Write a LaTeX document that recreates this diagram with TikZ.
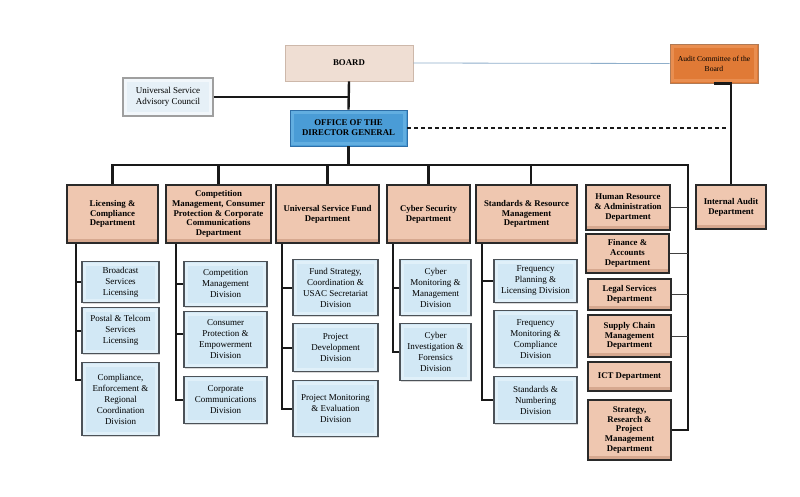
\documentclass[tikz,border=0pt]{standalone}
\usepackage{fontspec}
\setmainfont{Liberation Serif}
\usetikzlibrary{shadows,calc}
\definecolor{deptfill}{HTML}{EFC7B0}
\definecolor{deptdark}{HTML}{B98468}
\definecolor{deptborder}{HTML}{2A2A2A}
\definecolor{divfill}{HTML}{D2E8F5}
\definecolor{divlight}{HTML}{E0F0F9}
\definecolor{divborder}{HTML}{4C5258}
\definecolor{boardfill}{HTML}{EFDED3}
\definecolor{boardborder}{HTML}{CDB8AA}
\definecolor{odgfill}{HTML}{4A9CD6}
\definecolor{odglight}{HTML}{62AEE0}
\definecolor{odgborder}{HTML}{2E6FA8}
\definecolor{auditfill}{HTML}{E07A36}
\definecolor{auditlight}{HTML}{E98E50}
\definecolor{auditborder}{HTML}{B07A55}
\definecolor{usacfill}{HTML}{E6F0F7}
\definecolor{usaclight}{HTML}{F2F7FB}
\definecolor{blueline}{HTML}{8FAFCB}
\tikzset{
  every node/.style={align=center, inner sep=1pt},
  bevel/.style={path picture={\draw[line width=3pt, #1]
    ($(path picture bounding box.south west)+(2.5,-2.5)$) rectangle
    ($(path picture bounding box.north east)+(-2.5,2.5)$);}},
  dept/.style={rectangle, draw=deptborder, line width=1.4pt, fill=deptfill,
    path picture={\fill[deptdark, opacity=0.45]
      (path picture bounding box.south west) rectangle
      ($(path picture bounding box.south east)+(0,-4)$);},
    font=\fontsize{8.8}{9.8}\selectfont\bfseries},
  divbox/.style={rectangle, draw=divborder, line width=1.3pt, fill=divfill,
    bevel=divlight,
    drop shadow={opacity=0.3, shadow xshift=1pt, shadow yshift=-1pt},
    font=\fontsize{9}{11}\selectfont},
  boardbox/.style={rectangle, draw=boardborder, line width=0.8pt, fill=boardfill,
    drop shadow={opacity=0.25, shadow xshift=1pt, shadow yshift=-1pt},
    font=\fontsize{8.8}{10}\selectfont\bfseries},
  odgbox/.style={rectangle, draw=odgborder, line width=0.8pt, fill=odgfill,
    bevel=odglight,
    drop shadow={opacity=0.25, shadow xshift=1pt, shadow yshift=-1pt},
    font=\fontsize{8.8}{10}\selectfont\bfseries},
  auditbox/.style={rectangle, draw=auditborder, line width=0.8pt, fill=auditfill,
    bevel=auditlight,
    drop shadow={opacity=0.25, shadow xshift=1pt, shadow yshift=-1pt},
    font=\fontsize{7.6}{10}\selectfont},
  usacbox/.style={rectangle, draw=gray!75, line width=1.2pt, fill=usacfill,
    bevel=usaclight,
    drop shadow={opacity=0.25, shadow xshift=1pt, shadow yshift=-1pt},
    font=\fontsize{9}{11.3}\selectfont},
  conn/.style={line width=2.4pt, draw=black!90},
  colconn/.style={line width=2pt, draw=black!90},
  thinconn/.style={line width=0.9pt, draw=black!75},
  bluelink/.style={line width=0.8pt, draw=blueline},
  dashlink/.style={line width=1.2pt, draw=black!90, dash pattern=on 4pt off 3pt},
}
\begin{document}
\begin{tikzpicture}[x=1pt, y=-1pt]
\useasboundingbox (0,0) rectangle (800,496);
\fill[white] (0,0) rectangle (800,496);

% top level
\node[boardbox, minimum width=128pt, minimum height=36pt] (board) at (349,63) {BOARD};
\node[auditbox, minimum width=88pt, minimum height=39pt] (audit) at (714,63.5) {Audit Committee of the\\Board};
\node[usacbox, minimum width=90pt, minimum height=38pt] (usac) at (168,97) {Universal Service\\Advisory Council};
\node[odgbox, minimum width=117pt, minimum height=36pt] (odg) at (348.5,128) {OFFICE OF THE\\DIRECTOR GENERAL};

% departments
\node[dept, minimum width=91pt, minimum height=58pt] (lic) at (112.5,214) {Licensing \&\\Compliance\\Department};
\node[dept, minimum width=105pt, minimum height=58pt] (comp) at (218.5,214) {Competition\\Management, Consumer\\Protection \& Corporate\\Communications\\Department};
\node[dept, minimum width=103pt, minimum height=58pt] (usf) at (327.5,214) {Universal Service Fund\\Department};
\node[dept, minimum width=83pt, minimum height=58pt] (cyb) at (428.5,214) {Cyber Security\\Department};
\node[dept, minimum width=101pt, minimum height=58pt] (std) at (526.5,214) {Standards \& Resource\\Management\\Department};
\node[dept, minimum width=84pt, minimum height=45pt] (hr) at (628,207.5) {Human Resource\\\& Administration\\Department};
\node[dept, minimum width=83pt, minimum height=39pt] (fin) at (627.5,253.5) {Finance \&\\Accounts\\Department};
\node[dept, minimum width=83pt, minimum height=31pt] (legal) at (629.5,294.5) {Legal Services\\Department};
\node[dept, minimum width=83pt, minimum height=42pt] (supply) at (629.5,336) {Supply Chain\\Management\\Department};
\node[dept, minimum width=83pt, minimum height=29pt] (ict) at (629.5,376.5) {ICT Department};
\node[dept, minimum width=83pt, minimum height=60pt] (strat) at (629.5,430) {Strategy,\\Research \&\\Project\\Management\\Department};
\node[dept, minimum width=70pt, minimum height=44pt] (ia) at (731,207) {Internal Audit\\Department};

% divisions
\node[divbox, minimum width=77pt, minimum height=41pt] (d11) at (120.5,282) {Broadcast\\Services\\Licensing};
\node[divbox, minimum width=77pt, minimum height=46pt] (d12) at (120.5,330.5) {Postal \& Telcom\\Services\\Licensing};
\node[divbox, minimum width=77pt, minimum height=73pt] (d13) at (120.5,399) {Compliance,\\Enforcement \&\\Regional\\Coordination\\Division};

\node[divbox, minimum width=83pt, minimum height=45pt] (d21) at (225.5,284) {Competition\\Management\\Division};
\node[divbox, minimum width=83pt, minimum height=56pt] (d22) at (225.5,339.5) {Consumer\\Protection \&\\Empowerment\\Division};
\node[divbox, minimum width=83pt, minimum height=47pt] (d23) at (225.5,400) {Corporate\\Communications\\Division};

\node[divbox, minimum width=85pt, minimum height=56pt] (d31) at (335.5,287.5) {Fund Strategy,\\Coordination \&\\USAC Secretariat\\Division};
\node[divbox, minimum width=85pt, minimum height=48pt] (d32) at (335.5,347.5) {Project\\Development\\Division};
\node[divbox, minimum width=85pt, minimum height=56pt] (d33) at (335.5,408.5) {Project Monitoring\\\& Evaluation\\Division};

\node[divbox, minimum width=71pt, minimum height=56pt] (d41) at (435.5,287.5) {Cyber\\Monitoring \&\\Management\\Division};
\node[divbox, minimum width=71pt, minimum height=57pt] (d42) at (435.5,352) {Cyber\\Investigation \&\\Forensics\\Division};

\node[divbox, minimum width=83pt, minimum height=43pt] (d51) at (535.5,281) {Frequency\\Planning \&\\Licensing Division};
\node[divbox, minimum width=83pt, minimum height=57pt] (d52) at (535.5,339) {Frequency\\Monitoring \&\\Compliance\\Division};
\node[divbox, minimum width=83pt, minimum height=47pt] (d53) at (535.5,400) {Standards \&\\Numbering\\Division};

% connectors: top
\coordinate (busR) at (688,165);
\coordinate (dashE) at (728,0);
\coordinate (stdx) at (531,0);
\draw[conn] (board.south) -- (odg.north);
\draw[conn] (usac.east) -- (usac.east -| board.south);
\draw[bluelink] (board.east) -- (audit.west);
\draw[dashlink] (odg.east) -- (odg.east -| dashE);
\draw[conn] (audit.south) -| (ia.north);

% bus
\draw[conn] (odg.south) -- (odg.south |- busR);
\draw[conn] (lic.north) |- (busR) |- (strat.east);
\draw[conn] (comp.north) -- (comp.north |- busR);
\draw[conn] (usf.north) -- (usf.north |- busR);
\draw[conn] (cyb.north) -- (cyb.north |- busR);
\draw[conn] (std.north -| stdx) -- (busR -| stdx);
\draw[thinconn] (hr.east) -- (hr.east -| busR);
\draw[thinconn] (fin.east) -- (fin.east -| busR);
\draw[thinconn] (legal.east) -- (legal.east -| busR);
\draw[thinconn] (supply.east) -- (supply.east -| busR);

% division columns
\coordinate (c1) at (76,0);
\coordinate (c2) at (176,0);
\coordinate (c3) at (282,0);
\coordinate (c4) at (393,0);
\coordinate (c5) at (482,0);
\coordinate (d13s) at ($(d13.north west)+(0,18)$);
\draw[colconn] (lic.south -| c1) |- (d13s);
\draw[colconn] (d11.west -| c1) -- (d11.west);
\draw[colconn] (d12.west -| c1) -- (d12.west);

\coordinate (d22s) at ($(d22.north west)+(0,23)$);
\draw[colconn] (comp.south -| c2) |- (d23.west);
\draw[colconn] (d21.west -| c2) -- (d21.west);
\draw[colconn] (d22s -| c2) -- (d22s);

\draw[colconn] (usf.south -| c3) |- (d33.west);
\draw[colconn] (d31.west -| c3) -- (d31.west);
\draw[colconn] (d32.west -| c3) -- (d32.west);

\draw[colconn] (cyb.south -| c4) |- (d42.west);
\draw[colconn] (d41.west -| c4) -- (d41.west);

\draw[colconn] (std.south -| c5) |- (d53.west);
\draw[colconn] (d51.west -| c5) -- (d51.west);
\end{tikzpicture}
\end{document}
